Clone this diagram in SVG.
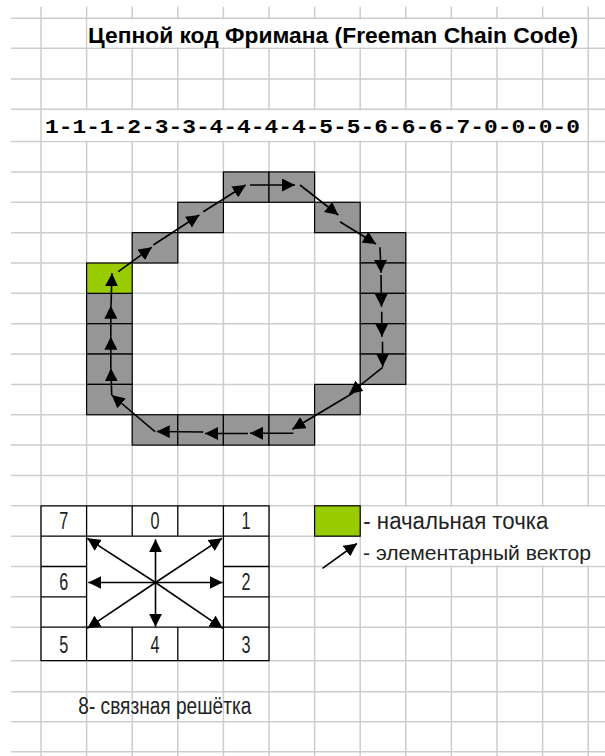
<svg xmlns="http://www.w3.org/2000/svg" width="605" height="756" viewBox="0 0 605 756">
<style>
.g{stroke:#cdcdcd;stroke-width:1.5;fill:none}
.cell{fill:#969696;stroke:#000;stroke-width:1.2}
.start{fill:#99cc00;stroke:#000;stroke-width:1.2}
.tb{stroke:#000;stroke-width:1.3;fill:none}
.ar{stroke:#000;stroke-width:1.6;fill:none;marker-end:url(#ah)}
.t{font-family:"Liberation Sans",Arial,sans-serif;font-size:23px;fill:#222}
.d{font-family:"Liberation Sans",Arial,sans-serif;font-size:23px;fill:#222;text-anchor:middle}
</style>
<defs>
<marker id="ah" markerUnits="userSpaceOnUse" markerWidth="14" markerHeight="13" refX="13" refY="6.5" orient="auto">
<path d="M0,0 L13,6.5 L0,13 z" fill="#000"/>
</marker>
</defs>
<rect width="605" height="756" fill="#fff"/>
<g id="grid" class="g">
<path d="M41,6.7V756M86.6,6.7V756M132.2,6.7V756M177.8,6.7V756M223.4,6.7V756M269,6.7V756M314.6,6.7V756M360.2,6.7V756M405.8,6.7V756M451.4,6.7V756M497,6.7V756M542.6,6.7V756M588.2,6.7V756"/>
<path d="M11,18.3H605M11,48.3H605M11,79H605M11,109.3H605M11,141.6H605M11,171.95H605M11,202.3H605M11,232.65H605M11,263H605M11,293.35H605M11,323.7H605M11,354.05H605M11,384.4H605M11,414.75H605M11,445.1H605M11,475.45H605M11,505.8H605M11,536.15H605M11,566.5H605M11,596.85H605M11,627.2H605M11,660.7H605M11,691.7H605M11,721.7H605M11,751.7H605"/>
</g>
<g id="masks" fill="#fff">
<rect x="87.6" y="19.3" width="499.6" height="28"/>
<rect x="42" y="110.3" width="545.2" height="30.3"/>
<rect x="41" y="505.8" width="228" height="154.9"/>
<rect x="361.2" y="506.8" width="244" height="58.7"/>
</g>
<g id="title">
<text x="88" y="43.3" font-family="'Liberation Sans',Arial,sans-serif" font-weight="bold" font-size="22" fill="#000" textLength="490" lengthAdjust="spacingAndGlyphs">Цепной код Фримана (Freeman Chain Code)</text>
</g>
<g id="code">
<text x="45" y="133.3" font-family="'Liberation Mono','Courier New',monospace" font-weight="bold" font-size="21" fill="#000" textLength="535" lengthAdjust="spacingAndGlyphs">1-1-1-2-3-3-4-4-4-4-5-5-6-6-6-7-0-0-0-0</text>
</g>
<g id="chain-cells">
<g id="c-4-1"><rect class="cell" x="223.4" y="171.95" width="45.6" height="30.35"/></g>
<g id="c-5-1"><rect class="cell" x="269" y="171.95" width="45.6" height="30.35"/></g>
<g id="c-3-2"><rect class="cell" x="177.8" y="202.3" width="45.6" height="30.35"/></g>
<g id="c-6-2"><rect class="cell" x="314.6" y="202.3" width="45.6" height="30.35"/></g>
<g id="c-2-3"><rect class="cell" x="132.2" y="232.65" width="45.6" height="30.35"/></g>
<g id="c-7-3"><rect class="cell" x="360.2" y="232.65" width="45.6" height="30.35"/></g>
<g id="c-7-4"><rect class="cell" x="360.2" y="263" width="45.6" height="30.35"/></g>
<g id="c-1-5"><rect class="cell" x="86.6" y="293.35" width="45.6" height="30.35"/></g>
<g id="c-7-5"><rect class="cell" x="360.2" y="293.35" width="45.6" height="30.35"/></g>
<g id="c-1-6"><rect class="cell" x="86.6" y="323.7" width="45.6" height="30.35"/></g>
<g id="c-7-6"><rect class="cell" x="360.2" y="323.7" width="45.6" height="30.35"/></g>
<g id="c-1-7"><rect class="cell" x="86.6" y="354.05" width="45.6" height="30.35"/></g>
<g id="c-7-7"><rect class="cell" x="360.2" y="354.05" width="45.6" height="30.35"/></g>
<g id="c-1-8"><rect class="cell" x="86.6" y="384.4" width="45.6" height="30.35"/></g>
<g id="c-6-8"><rect class="cell" x="314.6" y="384.4" width="45.6" height="30.35"/></g>
<g id="c-2-9"><rect class="cell" x="132.2" y="414.75" width="45.6" height="30.35"/></g>
<g id="c-3-9"><rect class="cell" x="177.8" y="414.75" width="45.6" height="30.35"/></g>
<g id="c-4-9"><rect class="cell" x="223.4" y="414.75" width="45.6" height="30.35"/></g>
<g id="c-5-9"><rect class="cell" x="269" y="414.75" width="45.6" height="30.35"/></g>
<g id="c-start"><rect class="start" x="86.6" y="263" width="45.6" height="30.35"/></g>
</g>
<g id="connectors">
<path class="ar" d="M118.3,271.7L151.7,247.3"/>
<path class="ar" d="M153.3,245L199.3,215"/>
<path class="ar" d="M203.3,211.7L245.7,185"/>
<path class="ar" d="M250,185L295,185"/>
<path class="ar" d="M300,185L338.3,215"/>
<path class="ar" d="M340,221.7L376,244"/>
<path class="ar" d="M380,247.3L381,272.7"/>
<path class="ar" d="M381,275L381.5,306.7"/>
<path class="ar" d="M381.7,311.7L381.9,336.7"/>
<path class="ar" d="M382.5,341.7L382.7,366.7"/>
<path class="ar" d="M382.7,367.3L349.3,394"/>
<path class="ar" d="M353,393L292.3,429.3"/>
<path class="ar" d="M293.3,433.3L250,433.3"/>
<path class="ar" d="M248,433.5L205,433.5"/>
<path class="ar" d="M203.3,432L156.7,431.5"/>
<path class="ar" d="M155,431.7L111.7,395"/>
<path class="ar" d="M111.7,395L110.9,368.3"/>
<path class="ar" d="M110.8,368L110.8,336.7"/>
<path class="ar" d="M110.8,336.7L110.8,305.7"/>
<path class="ar" d="M111,305.7L112,273.3"/>
</g>
<g id="direction-table">
<path class="tb" d="M41,505.8H269V660.7H41Z"/>
<path class="tb" d="M41,536.15H269M41,627.2H269M86.6,505.8V536.15M132.2,505.8V536.15M177.8,505.8V536.15M223.4,505.8V536.15M86.6,627.2V660.7M132.2,627.2V660.7M177.8,627.2V660.7M223.4,627.2V660.7M86.6,536.15V627.2M223.4,536.15V627.2M41,566.5H86.6M41,596.85H86.6M223.4,566.5H269M223.4,596.85H269"/>
<text class="d" x="63.8" y="529" textLength="9" lengthAdjust="spacingAndGlyphs">7</text>
<text class="d" x="155" y="529" textLength="9" lengthAdjust="spacingAndGlyphs">0</text>
<text class="d" x="246" y="529" textLength="9" lengthAdjust="spacingAndGlyphs">1</text>
<text class="d" x="63.8" y="590" textLength="9" lengthAdjust="spacingAndGlyphs">6</text>
<text class="d" x="246" y="590" textLength="9" lengthAdjust="spacingAndGlyphs">2</text>
<text class="d" x="63.8" y="653" textLength="9" lengthAdjust="spacingAndGlyphs">5</text>
<text class="d" x="155" y="653" textLength="9" lengthAdjust="spacingAndGlyphs">4</text>
<text class="d" x="246" y="653" textLength="9" lengthAdjust="spacingAndGlyphs">3</text>
<path class="ar" d="M155.5,582.5V539.3"/>
<path class="ar" d="M155.5,582.5V626.7"/>
<path class="ar" d="M155.5,582.5H88.3"/>
<path class="ar" d="M155.5,582.5H222.7"/>
<path class="ar" d="M155.5,582.5L87.3,538.3"/>
<path class="ar" d="M155.5,582.5L222,538.3"/>
<path class="ar" d="M155.5,582.5L87.3,628.3"/>
<path class="ar" d="M155.5,582.5L222.7,628.3"/>
</g>
<g id="legend">
<rect class="start" x="314.6" y="505.8" width="45.6" height="30.35"/>
<text class="t" x="363.3" y="529.3" textLength="185" lengthAdjust="spacingAndGlyphs">- начальная точка</text>
<path class="ar" d="M322.5,568.3L357,543.5"/>
<text class="t" x="363" y="560" font-size="21" style="font-size:21px" textLength="228" lengthAdjust="spacingAndGlyphs">- элементарный вектор</text>
</g>
<g id="caption">
<text class="t" x="78.3" y="714.3" textLength="173" lengthAdjust="spacingAndGlyphs">8- связная решётка</text>
</g>
</svg>
